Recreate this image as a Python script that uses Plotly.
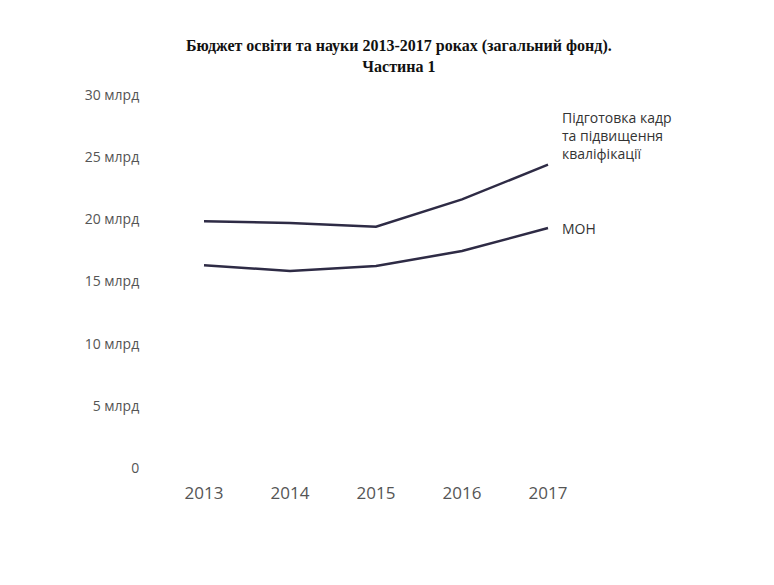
import plotly.graph_objects as go

years = [2013, 2014, 2015, 2016, 2017]
kadry = [19.85, 19.7, 19.4, 21.6, 24.4]
mon = [16.3, 15.85, 16.25, 17.45, 19.3]
y_ticks = [0, 5, 10, 15, 20, 25, 30]
y_labels = ["0"] + [f"{v} млрд" for v in y_ticks[1:]]

line_color = "#2e2b45"

fig = go.Figure()
for name, vals in [("Підготовка кадр<br>та підвищення<br>кваліфікації", kadry), ("МОН", mon)]:
    fig.add_trace(go.Scatter(x=years, y=vals, mode="lines", name=name,
                             line=dict(color=line_color, width=2.5)))
    fig.add_annotation(x=years[-1], y=vals[-1], text=name, showarrow=False,
                       xanchor="left", yanchor="bottom" if vals is kadry else "middle",
                       xshift=12, yshift=0, align="left",
                       font=dict(size=14, color="#333333"))

fig.update_layout(
    width=774, height=585,
    paper_bgcolor="white", plot_bgcolor="white",
    margin=dict(l=153, r=191, t=87, b=125),
    showlegend=False,
    font=dict(family="Open Sans", color="#555555"),
    title=dict(text="<b>Бюджет освіти та науки 2013-2017 роках (загальний фонд).<br>Частина 1</b>",
               x=0.505, xanchor="center", y=0.927, yanchor="top",
               font=dict(family="Liberation Serif", size=16, color="#111111")),
    xaxis=dict(range=[2012.5, 2017.5], tickvals=years, showgrid=False, zeroline=False,
               showline=False, ticks="outside", ticklen=10, tickcolor="white",
               tickfont=dict(size=17, color="#555555")),
    yaxis=dict(range=[0, 30], tickvals=y_ticks, ticktext=y_labels, showgrid=False,
               zeroline=False, showline=False, ticks="outside", ticklen=18,
               tickcolor="white", tickfont=dict(size=14, color="#555555")),
)

fig.write_html("out.html")
